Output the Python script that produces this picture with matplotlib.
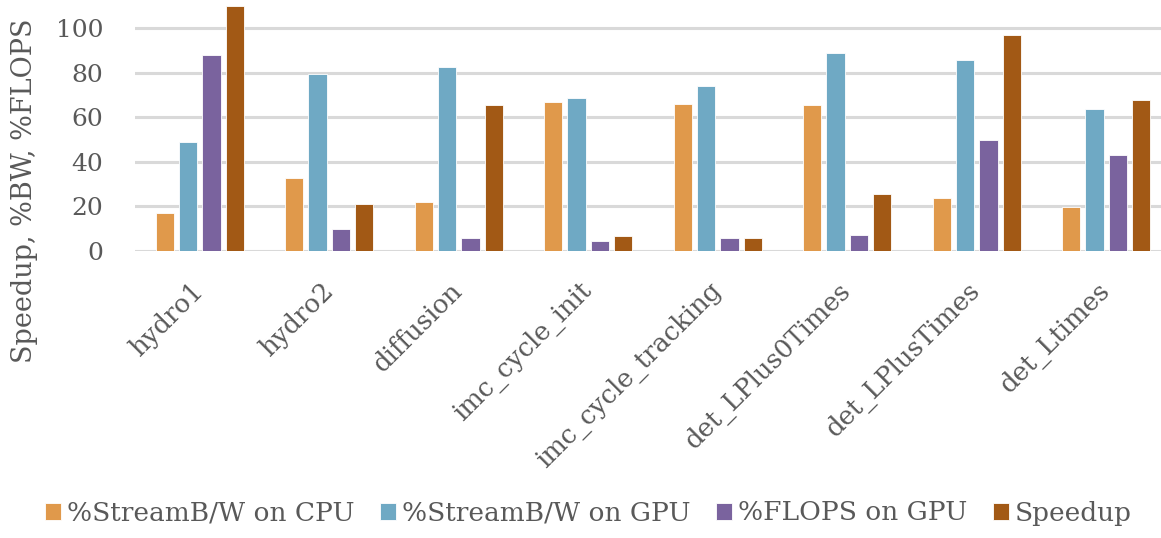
import matplotlib
matplotlib.use("Agg")
import matplotlib.pyplot as plt
import numpy as np

# 数据
categories = ["hydro1", "hydro2", "diffusion", "imc_cycle_init", "imc_cycle_tracking",
              "det_LPlus0Times", "det_LPlusTimes", "det_Ltimes"]
bw_cpu = [17, 33, 22, 67, 66, 65.5, 24, 19.7]
bw_gpu = [49, 79.5, 82.8, 68.8, 74, 89, 85.7, 63.6]
flops_gpu = [88, 10, 6, 4.3, 6, 7.4, 50, 43]
speedup = [110, 21, 65.5, 6.6, 6, 25.4, 97, 68]

series = [bw_cpu, bw_gpu, flops_gpu, speedup]
labels = ["%StreamB/W on CPU", "%StreamB/W on GPU", "%FLOPS on GPU", "Speedup"]
colors = ["#E0994B", "#6FA9C4", "#7A639E", "#A25915"]

text_color = "#595959"
plt.rcParams['font.family'] = ['DejaVu Serif']

fig = plt.figure(figsize=(11.61, 5.38), dpi=100)
ax = fig.add_axes([135 / 1161, 287 / 538, 1036 / 1161, 245 / 538])

x = np.arange(len(categories))
pitch = 0.18
width = 0.142
for i, (vals, lab, col) in enumerate(zip(series, labels, colors)):
    ax.bar(x + (i - 1.5) * pitch, vals, width, color=col, label=lab,
           edgecolor="white", linewidth=0.6, zorder=3)

ax.set_xlim(-0.5, len(categories) - 0.5)
ax.set_ylim(0, 110)
ax.set_yticks(range(0, 101, 20))
ax.yaxis.grid(True, color="#d9d9d9", linewidth=2.2, zorder=0)
for s in ax.spines.values():
    s.set_visible(False)
ax.tick_params(axis="y", length=0, colors=text_color, labelsize=18, pad=23)
ax.tick_params(axis="x", length=0, colors=text_color, labelsize=18.6, pad=26)
ax.set_xticks(x)
ax.set_xticklabels(categories, rotation=45, ha="right", rotation_mode="anchor",
                   va="center")

fig.text(25 / 1161, 1 - 191 / 538, "Speedup, %BW, %FLOPS", rotation=90,
         ha="center", va="center", fontsize=19.5, color=text_color)

leg = fig.legend(loc="center", bbox_to_anchor=(0.507, 1 - 513 / 538), ncol=4,
                 frameon=False, fontsize=19, handlelength=0.6, handleheight=0.6,
                 handletextpad=0.25, columnspacing=0.95)
for t in leg.get_texts():
    t.set_color(text_color)

fig.savefig("out.png", dpi=100)
